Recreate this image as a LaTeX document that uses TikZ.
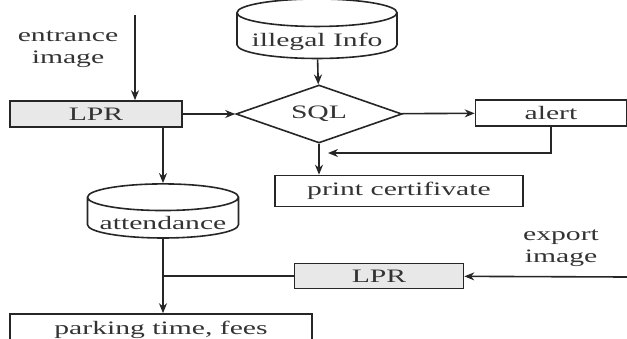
\documentclass[tikz,border=0pt]{standalone}
\usepackage{fontspec}
\setmainfont{Liberation Serif}[FakeStretch=1.56]
\usetikzlibrary{arrows.meta}
\usetikzlibrary{shapes.geometric}

\begin{document}
\begin{tikzpicture}[x=1pt,y=-1pt,line width=1.6pt,font=\fontsize{19}{22}\selectfont]
	\clip (0,0) rectangle (627,338);
	\begin{scope}[every node/.style={draw=black!85,inner sep=0pt,text=black!80}]
		\node[fill=black!9,minimum width=172pt,minimum height=26pt] (lpr1) at (96,114) {LPR};
		\node[diamond,aspect=2.85,minimum width=166pt,minimum height=58pt] (sql) at (319,114) {SQL};
		\node[cylinder,shape border rotate=90,aspect=0.21,minimum width=160pt,minimum height=53pt] (info) at (317,36) {\raisebox{-6pt}[\height][\depth]{illegal Info}};
		\node[minimum width=151pt,minimum height=26pt] (alert) at (551,113) {alert};
		\node[minimum width=248pt,minimum height=31pt] (print) at (399,191) {print certifivate};
		\node[cylinder,shape border rotate=90,aspect=0.21,minimum width=151pt,minimum height=53pt] (att) at (163,218) {\raisebox{-5pt}[\height][\depth]{attendance}};
		\node[fill=black!9,minimum width=169pt,minimum height=25pt] (lpr2) at (379,276) {LPR};
		\node[minimum width=302pt,minimum height=32pt] (park) at (161,330) {parking time, fees};
	\end{scope}

	\begin{scope}[every node/.style={align=center,text=black!80}]
		\node (entry) at (68,49) {entrance\\image};
		\node (exit) at (561,248) {export\\image};
	\end{scope}
	\coordinate (in) at (135,15);
	\coordinate (out) at (627,277);
	\coordinate (back) at (328,153);

	\begin{scope}[>={Stealth[length=10pt,width=8pt]},
	              every edge/.style={draw=black!85}]
		\path[->] (in) edge (in |- lpr1.north);
		\path[->] (lpr1) edge (sql);
		\path[->] (info) edge (sql);
		\path[->] (sql) edge (alert);
		\path[->] (sql.south) edge (sql.south |- print.north);
		\draw[->,black!85] (alert.south) |- (back);
		\path[->] (lpr1.south -| att.north) edge (att.north);
		\path[->] (att.south) edge (att.south |- park.north);
		\path[->] (out) edge (lpr2);
		\path (lpr2.west) edge (att.south |- lpr2.west);
	\end{scope}
\end{tikzpicture}
\end{document}
